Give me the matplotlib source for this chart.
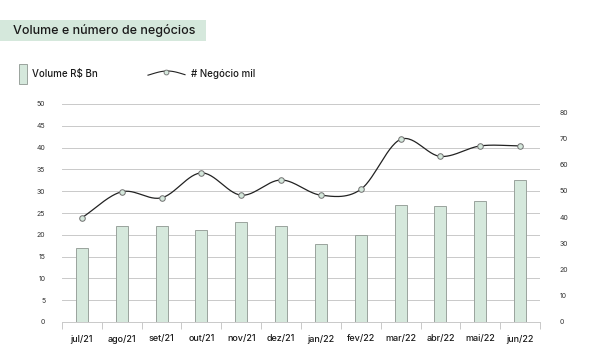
import matplotlib as mpl
mpl.use('Agg')
import numpy as np
import matplotlib.pyplot as plt
from matplotlib.patches import Rectangle
from matplotlib.lines import Line2D

# data
months = ['jul/21', 'ago/21', 'set/21', 'out/21', 'nov/21', 'dez/21',
          'jan/22', 'fev/22', 'mar/22', 'abr/22', 'mai/22', 'jun/22']
volume = [17, 22, 22, 21, 23, 22, 18, 20, 26.8, 26.5, 27.8, 32.6]
negocios = [39.8, 49.7, 47.4, 56.9, 48.4, 54.2, 48.4, 50.6, 69.7, 63.2, 67.2, 67.2]

green = '#d5e8dc'
edge = '#9aa39d'
grid = '#c9c9c9'
plt.rcParams['font.family'] = ['Inter', 'DejaVu Sans']


def smooth(x, y, n=30):
    # catmull-rom style smoothing, like spreadsheet "smoothed line"
    x = np.asarray(x, float)
    y = np.asarray(y, float)
    px = np.concatenate([[2*x[0]-x[1]], x, [2*x[-1]-x[-2]]])
    py = np.concatenate([[2*y[0]-y[1]], y, [2*y[-1]-y[-2]]])
    xs, ys = [], []
    t = np.linspace(0, 1, n)
    for i in range(1, len(px)-2):
        p0, p1, p2, p3 = [np.array([px[j], py[j]]) for j in (i-1, i, i+1, i+2)]
        c1 = p1 + (p2-p0)/6
        c2 = p2 - (p3-p1)/6
        b = ((1-t)**3)[:, None]*p1 + (3*(1-t)**2*t)[:, None]*c1 \
            + (3*(1-t)*t**2)[:, None]*c2 + (t**3)[:, None]*p2
        xs.append(b[:, 0])
        ys.append(b[:, 1])
    return np.concatenate(xs), np.concatenate(ys)


fig = plt.figure(figsize=(5.96, 3.6), dpi=100)
ax = fig.add_axes([62/596, 1-322/360, 478/596, 218/360])
x = np.arange(len(months))
ax.bar(x, volume, width=0.3, color=green, edgecolor=edge, linewidth=0.7, zorder=2)
ax.set_xlim(-0.5, len(months)-0.5)
ax.set_ylim(0, 50)
ax.set_yticks(np.arange(0, 51, 5))
ax.yaxis.grid(True, color=grid, linewidth=0.7)
ax.set_axisbelow(True)
for s in ['top', 'right', 'left']:
    ax.spines[s].set_visible(False)
ax.spines['bottom'].set_color(grid)
ax.spines['bottom'].set_linewidth(0.7)
ax.set_xticks(x)
ax.set_xticklabels(months, fontsize=6.5, color='#1a1a1a', fontweight='medium')
ax.set_xticks(np.arange(-0.5, len(months)), minor=True)
ax.tick_params(axis='x', which='major', length=0, pad=9)
ax.tick_params(axis='x', which='minor', length=5, color=grid, width=0.7)
ax.tick_params(axis='y', length=0, labelsize=5, pad=12, labelcolor='#333333')

ax2 = ax.twinx()
ax2.set_ylim(0, 83.2)
ax2.set_yticks(np.arange(0, 81, 10))
for s in ax2.spines.values():
    s.set_visible(False)
ax2.tick_params(axis='y', length=0, labelsize=5, pad=14, labelcolor='#333333')
sx, sy = smooth(x, negocios)
ax2.plot(sx, sy, color='#222222', linewidth=0.9, zorder=3)
ax2.plot(x, negocios, 'o', markersize=4, markerfacecolor=green,
         markeredgecolor='#707070', markeredgewidth=0.7, zorder=4)

# title box
fig.patches.append(Rectangle((0, 1-41/360), 206/596, 21/360, transform=fig.transFigure,
                             facecolor=green, edgecolor='none'))
fig.text(13/596, 1-30.5/360, 'Volume e número de negócios', fontsize=9,
         va='center', ha='left', color='#1a1a1a', fontweight='medium')

# legend
fig.patches.append(Rectangle((19/596, 1-84/360), 8/596, 20/360, transform=fig.transFigure,
                             facecolor=green, edgecolor=edge, linewidth=0.7))
fig.text(32/596, 1-74/360, 'Volume R$ Bn', fontsize=7, va='center', ha='left',
         color='#1a1a1a', fontweight='medium')
lx = np.linspace(148, 185, 40)
ly = 74 - 3*np.sin((lx-148)/37*np.pi*1.2 - 0.4)
fig.add_artist(Line2D(lx/596, 1-ly/360, color='#222222', linewidth=0.8))
fig.add_artist(Line2D([166/596], [1-71.5/360], marker='o', markersize=3.5,
                      markerfacecolor=green, markeredgecolor='#707070', markeredgewidth=0.6))
fig.text(191/596, 1-74/360, '# Negócio mil', fontsize=7, va='center', ha='left',
         color='#1a1a1a', fontweight='medium')

fig.savefig('out.png', dpi=100)
